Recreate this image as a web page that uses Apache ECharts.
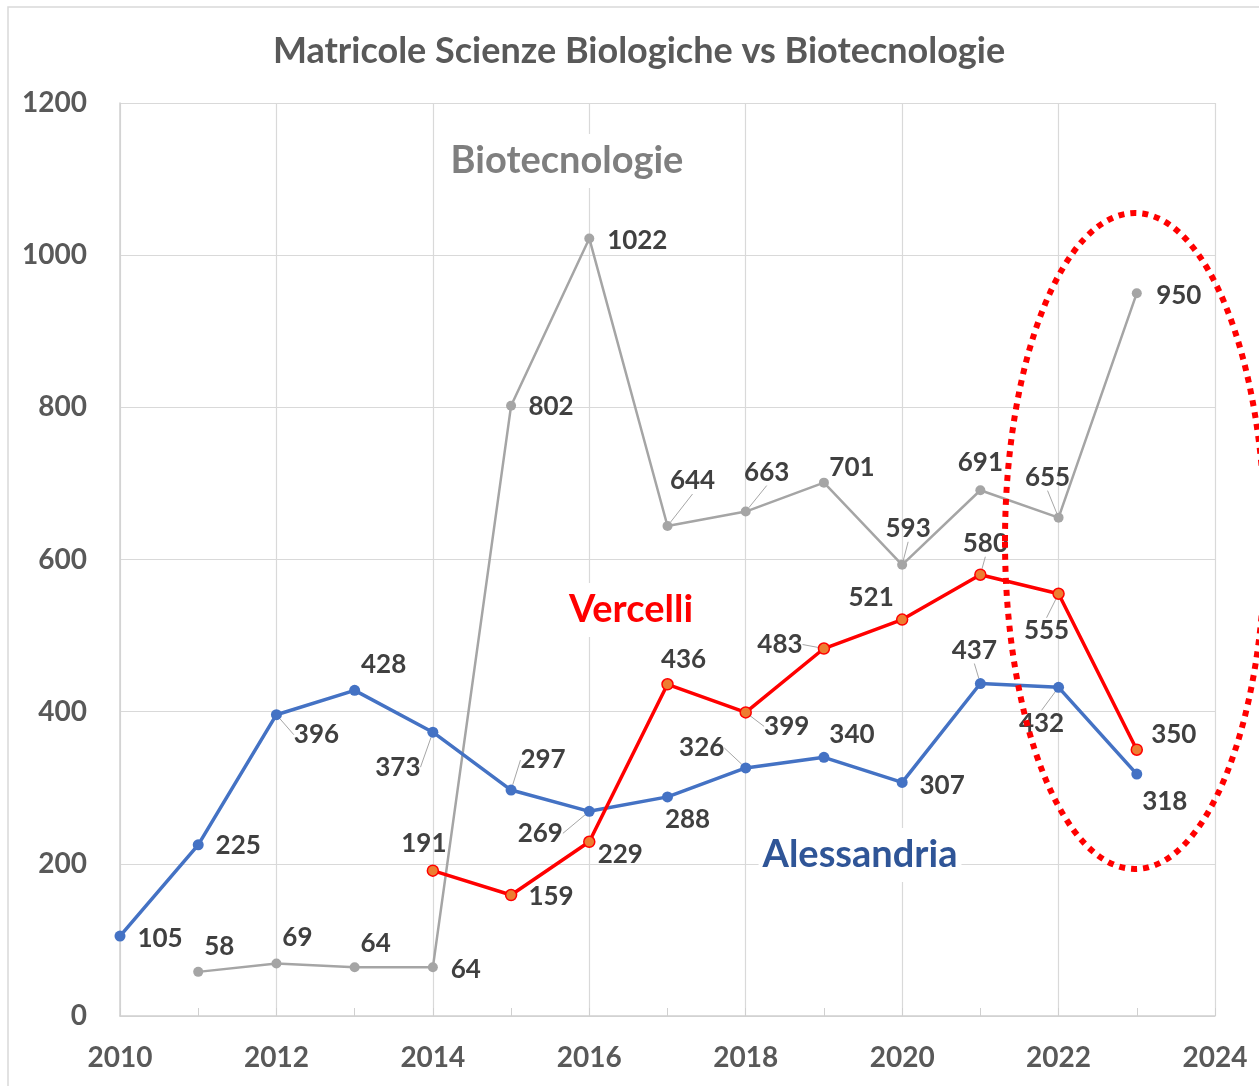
<!DOCTYPE html>
<html>
<head>
<meta charset="utf-8">
<script src="https://cdn.jsdelivr.net/npm/echarts@6/dist/echarts.min.js"></script>
<style>
  html, body { margin: 0; padding: 0; background: #fff; }
  #mychart { width: 1259px; height: 1086px; }
</style>
</head>
<body>
<div id="mychart"></div>
<script>
// data
var years = [2010, 2011, 2012, 2013, 2014, 2015, 2016, 2017, 2018, 2019, 2020, 2021, 2022, 2023]
var alessandria = [105, 225, 396, 428, 373, 297, 269, 288, 326, 340, 307, 437, 432, 318]
var vercelliYears = [2014, 2015, 2016, 2017, 2018, 2019, 2020, 2021, 2022, 2023]
var vercelli = [191, 159, 229, 436, 399, 483, 521, 580, 555, 350]
var biotecYears = [2011, 2012, 2013, 2014, 2015, 2016, 2017, 2018, 2019, 2020, 2021, 2022, 2023]
var biotec = [58, 69, 64, 64, 802, 1022, 644, 663, 701, 593, 691, 655, 950]
var yTicks = [0, 200, 400, 600, 800, 1000, 1200]
var xTicks = [2010, 2012, 2014, 2016, 2018, 2020, 2022, 2024]

// label offsets (px from the point) and which ones get a leader line
var alessOffsets = [[40, 2], [40, 1], [40, 20], [29, -26], [-35, 35], [32, -30], [-49, 22], [20, 23], [-44, -20], [28, -23], [40, 3], [-6, -33], [-17, 36], [28, 28]]
var alessLeader = [false, false, true, false, true, true, true, false, true, false, false, true, true, false]
var vercOffsets = [[-9, -27], [40, 2], [31, 13], [16, -25], [41, 14], [-44, -4], [-31, -22], [5, -31], [-12, 37], [37, -15]]
var vercLeader = [false, false, false, false, true, true, false, true, true, false]
var bioOffsets = [[21, -25], [21, -26], [21, -24], [33, 2], [40, 1], [48, 2], [25, -45], [21, -39], [28, -15], [6, -36], [0, -28], [-11, -40], [42, 2]]
var bioLeader = [false, false, false, false, false, false, true, true, false, true, false, true, false]

var font = 'Lato, "Open Sans", sans-serif'

function build(xs, ys, offsets, leaders) {
    var out = []
    for (var i = 0; i < xs.length; i++) {
        out.push({
            value: [xs[i], ys[i]],
            label: { offset: offsets[i] },
            labelLine: { show: leaders[i] }
        })
    }
    return out
}

var labelStyle = {
    show: true,
    position: 'inside',
    align: 'center',
    verticalAlign: 'middle',
    color: '#404040',
    fontFamily: font,
    fontWeight: 'bold',
    fontSize: 26,
    formatter: function (p) { return p.value[1] }
}
var leaderStyle = { show: false, lineStyle: { color: '#a6a6a6', width: 1 } }

var myChart = echarts.init(document.getElementById('mychart'))
var option = {
    backgroundColor: '#ffffff',
    animation: false,
    title: {
        text: 'Matricole Scienze Biologiche vs Biotecnologie',
        left: 634,
        top: 28,
        textAlign: 'center',
        textStyle: { color: '#595959', fontFamily: font, fontWeight: 'bold', fontSize: 36 }
    },
    grid: { left: 120, right: 44, top: 103, bottom: 70, containLabel: false },
    xAxis: {
        type: 'value',
        min: xTicks[0],
        max: xTicks[xTicks.length - 1],
        interval: 2,
        axisLine: { lineStyle: { color: '#d0d0d0', width: 1.5 } },
        axisTick: { show: true, inside: true, length: 8, lineStyle: { color: '#d0d0d0' } },
        minorTick: { show: true, splitNumber: 2, length: 8, lineStyle: { color: '#d0d0d0' } },
        splitLine: { show: true, lineStyle: { color: '#d9d9d9', width: 1.2 } },
        axisLabel: {
            margin: 28,
            color: '#595959',
            fontFamily: font,
            fontWeight: 'bold',
            fontSize: 28,
            formatter: function (v) { return String(v) }
        }
    },
    yAxis: {
        type: 'value',
        min: yTicks[0],
        max: yTicks[yTicks.length - 1],
        interval: 200,
        axisLine: { show: true, lineStyle: { color: '#d0d0d0', width: 1.5 } },
        axisTick: { show: false },
        splitLine: { show: true, lineStyle: { color: '#d9d9d9', width: 1.2 } },
        axisLabel: {
            margin: 33,
            color: '#595959',
            fontFamily: font,
            fontWeight: 'bold',
            fontSize: 28,
            formatter: function (v) { return String(v) }
        }
    },
    series: [
        {
            name: 'Biotecnologie',
            type: 'line',
            data: build(biotecYears, biotec, bioOffsets, bioLeader),
            symbol: 'circle',
            symbolSize: 10,
            itemStyle: { color: '#a5a5a5' },
            lineStyle: { color: '#a5a5a5', width: 2.5 },
            label: labelStyle,
            labelLine: leaderStyle,
            z: 2
        },
        {
            name: 'Alessandria',
            type: 'line',
            data: build(years, alessandria, alessOffsets, alessLeader),
            symbol: 'circle',
            symbolSize: 11,
            itemStyle: { color: '#4472c4' },
            lineStyle: { color: '#4472c4', width: 3.5 },
            label: labelStyle,
            labelLine: leaderStyle,
            z: 3
        },
        {
            name: 'Vercelli',
            type: 'line',
            data: build(vercelliYears, vercelli, vercOffsets, vercLeader),
            symbol: 'circle',
            symbolSize: 11,
            itemStyle: { color: '#ed7d31', borderColor: '#ff0000', borderWidth: 1.5 },
            lineStyle: { color: '#ff0000', width: 3.5 },
            label: labelStyle,
            labelLine: leaderStyle,
            z: 4
        }
    ],
    graphic: [
        {
            type: 'rect',
            shape: { x: 8, y: 7, width: 1400, height: 1200 },
            style: { fill: 'none', stroke: '#d9d9d9', lineWidth: 1.5 },
            z: -1, silent: true
        },
        {
            type: 'text', x: 567, y: 161, z: 5,
            style: {
                text: 'Biotecnologie', fill: '#7f7f7f', font: 'bold 38px ' + font,
                align: 'center', verticalAlign: 'middle',
                backgroundColor: '#ffffff', padding: [8, 4]
            }
        },
        {
            type: 'text', x: 631, y: 610, z: 5,
            style: {
                text: 'Vercelli', fill: '#ff0000', font: 'bold 38px ' + font,
                align: 'center', verticalAlign: 'middle',
                backgroundColor: '#ffffff', padding: [8, 4]
            }
        },
        {
            type: 'text', x: 860, y: 855, z: 5,
            style: {
                text: 'Alessandria', fill: '#2f5597', font: 'bold 38px ' + font,
                align: 'center', verticalAlign: 'middle',
                backgroundColor: '#ffffff', padding: [8, 4]
            }
        },
        {
            type: 'ellipse',
            shape: { cx: 1135, cy: 541, rx: 130, ry: 328 },
            style: { fill: 'none', stroke: '#ff0000', lineWidth: 6, lineDash: [6, 6] },
            z: 10, silent: true
        }
    ]
}
myChart.setOption(option)
</script>
</body>
</html>
